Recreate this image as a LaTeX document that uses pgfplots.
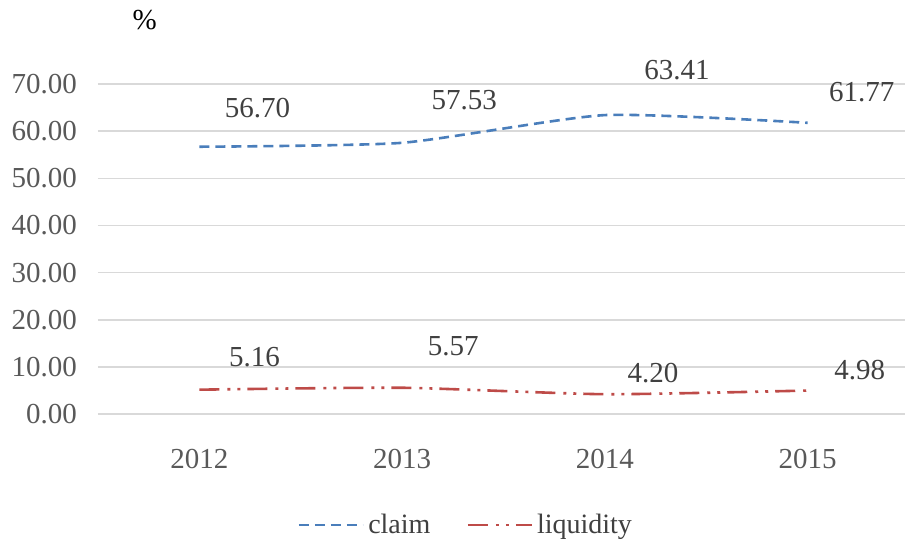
\documentclass[border=0pt]{standalone}
\usepackage{fontspec}
\setmainfont{Liberation Serif}
\usepackage{pgfplots}
\usepackage{pgfplotstable}
\pgfplotsset{compat=1.18}
\definecolor{claimc}{HTML}{4A7EBB}
\definecolor{liqc}{HTML}{BE4B48}
\definecolor{gridc}{HTML}{D9D9D9}
\definecolor{tickc}{HTML}{595959}
\definecolor{labc}{HTML}{404040}
\pgfplotstableread{
x y dx dy
0 56.70 29 19.5
1 57.53 31 21.5
2 63.41 36 22.5
3 61.77 27 15.5
}\claimdata
\pgfplotstableread{
x y dx dy
0 5.16 27.5 16.5
1 5.57 25.5 21
2 4.20 24 10.5
3 4.98 26 10
}\liqdata
\begin{document}
\begin{tikzpicture}
\begin{axis}[
  scale only axis,
  width=403.5pt, height=165pt,
  xmin=-0.5, xmax=3.48,
  ymin=0, ymax=70,
  ytick={0,10,...,70},
  xtick={0,1,2,3},
  xticklabels={2012,2013,2014,2015},
  axis line style={draw=none},
  major tick length=0pt,
  ymajorgrids,
  grid style={gridc, line width=0.8pt},
  clip=false,
  font=\fontsize{14.5}{17}\selectfont,
  tick label style={tickc},
  /pgf/number format/assume math mode=true,
  yticklabel={\pgfmathprintnumber[fixed,fixed zerofill,precision=2]{\tick}},
  yticklabel style={xshift=-7pt},
  xticklabel style={yshift=-14pt},
  legend style={draw=none, at={(rel axis cs:0.457,-0.336)}, anchor=center,
    legend columns=-1, font=\fontsize{14}{17}\selectfont, text=labc,
    /tikz/every even column/.append style={column sep=16pt}},
  legend image code/.code={\draw[#1] (0pt,0pt) -- (32pt,0pt);},
  nodes near coords={\pgfmathprintnumber[fixed,fixed zerofill,precision=2]{\pgfplotspointmeta}},
  point meta=y,
  visualization depends on={\thisrow{dx}\as\dx},
  visualization depends on={\thisrow{dy}\as\dy},
  every node near coord/.append style={anchor=center, xshift=\dx pt, yshift=\dy pt,
    text=labc, font=\fontsize{14.5}{17}\selectfont, /pgf/number format/assume math mode=true},
]
\addplot[claimc, line width=1.3pt, smooth, tension=0.35, dash pattern=on 5pt off 3pt] table[x=x,y=y] {\claimdata};
\addlegendentry{claim}
\addplot[liqc, line width=1.3pt, smooth, tension=0.35, dash pattern=on 10pt off 4pt on 1.5pt off 3.5pt on 1.5pt off 3.5pt] table[x=x,y=y] {\liqdata};
\addlegendentry{liquidity}
\node[font=\fontsize{14.5}{17}\selectfont, text=black] at (rel axis cs:0.058,1.194) {\%};
\end{axis}
\pgfresetboundingbox
\path[use as bounding box] (current axis.south west) ++(-49pt,-64.5pt) rectangle ++(452.5pt,271.5pt);
\end{tikzpicture}
\end{document}
